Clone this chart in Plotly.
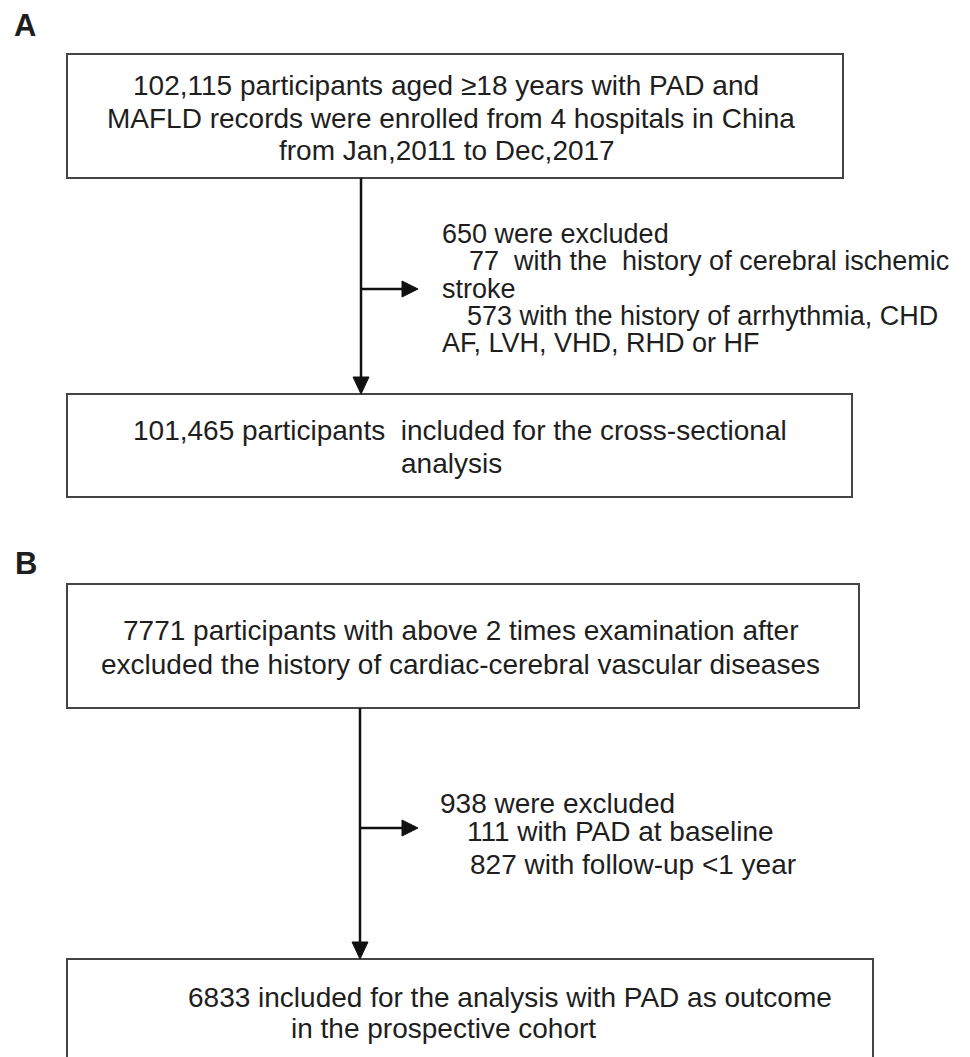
import plotly.graph_objects as go

# ---- content (text and counts) ----
panel_labels = ["A", "B"]

box_a1_lines = ["102,115 participants aged ≥18 years with PAD and",
                "MAFLD records were enrolled from 4 hospitals in China",
                "from Jan,2011 to Dec,2017"]
excl_a_lines = ["650 were excluded",
                "77\u00a0 with the\u00a0 history of cerebral ischemic",
                "stroke",
                "573 with the history of arrhythmia, CHD",
                "AF, LVH, VHD, RHD or HF"]
box_a2_lines = ["101,465 participants\u00a0 included for the cross-sectional",
                "analysis"]

box_b1_lines = ["7771 participants with above 2 times examination after",
                "excluded the history of cardiac-cerebral vascular diseases"]
excl_b_lines = ["938 were excluded",
                "111 with PAD at baseline",
                "827 with follow-up <1 year"]
box_b2_lines = ["6833 included for the analysis with PAD as outcome",
                "in the prospective cohort"]

# ---- layout geometry (page pixels, y downward) ----
W, H = 970, 1057
OFF = 8  # page body margin
FONT = "Liberation Sans, Arial, sans-serif"
FS = 28
FS_EXCL = 27
TXT = "#1e1e1e"
BOX = "#444444"
ARR = "#111111"

boxes = [  # x0, y0, x1, y1
    (67, 54, 843, 178),
    (67, 394, 852, 497),
    (67, 584, 859, 708),
    (67, 959, 873, 1080),
]

fig = go.Figure()
shapes = []
for (x0, y0, x1, y1) in boxes:
    shapes.append(dict(type="rect", x0=x0, y0=y0, x1=x1, y1=y1,
                       line=dict(color=BOX, width=2), fillcolor="rgba(0,0,0,0)",
                       xref="x", yref="y"))

def flow(xv, ytop, ybot, yside, xside_tip):
    shapes.append(dict(type="line", x0=xv, y0=ytop, x1=xv, y1=ybot - 14,
                       line=dict(color=ARR, width=2.5), xref="x", yref="y"))
    shapes.append(dict(type="path",
                       path=f"M {xv-8} {ybot-17} L {xv+8} {ybot-17} L {xv} {ybot} Z",
                       fillcolor=ARR, line=dict(color=ARR, width=1), xref="x", yref="y"))
    shapes.append(dict(type="line", x0=xv, y0=yside, x1=xside_tip - 14, y1=yside,
                       line=dict(color=ARR, width=2.5), xref="x", yref="y"))
    shapes.append(dict(type="path",
                       path=f"M {xside_tip-16} {yside-8} L {xside_tip-16} {yside+8} L {xside_tip} {yside} Z",
                       fillcolor=ARR, line=dict(color=ARR, width=1), xref="x", yref="y"))

flow(361, 178, 394, 289, 418)
flow(360, 708, 959, 828, 418)

annotations = []
def txt(s, x, y, anchor="left", size=FS, bold=False):
    annotations.append(dict(text=(f"<b>{s}</b>" if bold else s), x=x, y=y,
                            xref="x", yref="y", showarrow=False,
                            xanchor=anchor, yanchor="middle",
                            font=dict(family=FONT, size=size, color=TXT)))

txt(panel_labels[0], 12, 25, size=31, bold=True)
txt(panel_labels[1], 13, 563, size=31, bold=True)

for s, x, y in zip(box_a1_lines, [131, 105, 277], [85, 118, 150]):
    txt(s, x, y)
for s, x, y in zip(excl_a_lines, [440, 467, 440, 465, 440], [234, 261, 289, 316, 343]):
    txt(s, x, y, size=FS_EXCL)
for s, x, y in zip(box_a2_lines, [131, 399], [430, 463]):
    txt(s, x, y)

for s, x, y in zip(box_b1_lines, [121, 99], [630, 664]):
    txt(s, x, y)
for s, x, y in zip(excl_b_lines, [438, 465, 468], [803, 831, 864]):
    txt(s, x, y)
for s, x, y in zip(box_b2_lines, [186, 289], [997, 1028]):
    txt(s, x, y)

fig.update_layout(
    width=W - OFF, height=H - OFF,
    margin=dict(l=0, r=0, t=0, b=0),
    paper_bgcolor="white", plot_bgcolor="white",
    xaxis=dict(range=[OFF, W], visible=False, fixedrange=True),
    yaxis=dict(range=[H, OFF], visible=False, fixedrange=True),
    shapes=shapes, annotations=annotations, showlegend=False,
)

fig.write_html("out.html", config={"displayModeBar": False})
